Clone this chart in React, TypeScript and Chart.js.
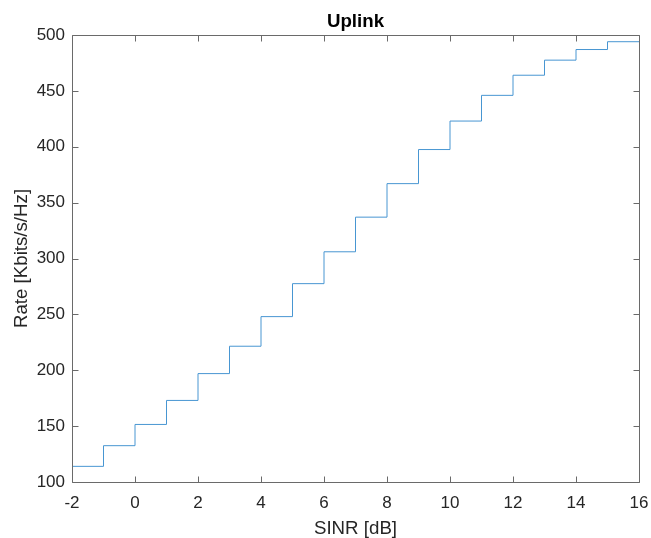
import React, { useEffect, useRef } from "react";
import { Chart, registerables } from "chart.js";

Chart.register(...registerables);

const sinr: number[] = [-2, -1, 0, 1, 2, 3, 4, 5, 6, 7, 8, 9, 10, 11, 12, 13, 14, 15, 16];
const rate: number[] = [114, 132.5, 151.5, 173, 197, 221.5, 248, 277.5, 306, 337, 367, 397.5, 423, 446, 464, 477.5, 487, 494, 494];

const titleText = "Uplink";
const xLabel = "SINR [dB]";
const yLabel = "Rate [Kbits/s/Hz]";

const FONT = "'Liberation Sans', Arial, Helvetica, sans-serif";
const TEXT_COLOR = "#262626";
const AXIS_COLOR = "#6a6a6a";

const frame = {
  id: "matlabFrame",
  afterDraw(chart: any) {
    const { ctx, chartArea } = chart;
    const { left, right, top, bottom } = chartArea;
    const xs = chart.scales.x;
    const ys = chart.scales.y;
    ctx.save();
    ctx.strokeStyle = AXIS_COLOR;
    ctx.lineWidth = 1;
    ctx.beginPath();
    const L = Math.round(left) + 0.5;
    const R = Math.round(right) + 0.5;
    const T = Math.round(top) + 0.5;
    const B = Math.round(bottom) + 0.5;
    ctx.rect(L, T, R - L, B - T);
    const tl = 6;
    xs.ticks.forEach((t: any) => {
      const px = Math.round(xs.getPixelForValue(t.value)) + 0.5;
      ctx.moveTo(px, B);
      ctx.lineTo(px, B - tl);
      ctx.moveTo(px, T);
      ctx.lineTo(px, T + tl);
    });
    ys.ticks.forEach((t: any) => {
      const py = Math.round(ys.getPixelForValue(t.value)) + 0.5;
      ctx.moveTo(L, py);
      ctx.lineTo(L + tl, py);
      ctx.moveTo(R, py);
      ctx.lineTo(R - tl, py);
    });
    ctx.stroke();

    const cx = (left + right) / 2;
    ctx.fillStyle = "#000000";
    ctx.font = `bold 18.7px ${FONT}`;
    ctx.textAlign = "center";
    ctx.textBaseline = "alphabetic";
    ctx.fillText(titleText, cx, 27);

    ctx.fillStyle = TEXT_COLOR;
    ctx.font = `18.7px ${FONT}`;
    ctx.fillText(xLabel, cx, 534);

    ctx.translate(27, (top + bottom) / 2);
    ctx.rotate(-Math.PI / 2);
    ctx.fillText(yLabel, 0, 0);
    ctx.restore();
  },
};

export default function App() {
  const ref = useRef<HTMLCanvasElement | null>(null);
  useEffect(() => {
    if (!ref.current) return;
    const chart = new Chart(ref.current, {
      type: "line",
      data: {
        datasets: [
          {
            data: sinr.map((x, i) => ({ x, y: rate[i] })),
            borderColor: "#4896d2",
            borderWidth: 1,
            pointRadius: 0,
            stepped: "before",
            fill: false,
          },
        ],
      },
      options: {
        animation: false,
        responsive: false,
        layout: { padding: { top: 35, right: 12, left: 0, bottom: 0 } },
        plugins: { legend: { display: false }, title: { display: false }, tooltip: { enabled: false } },
        scales: {
          x: {
            type: "linear",
            min: -2,
            max: 16,
            grid: { display: false, drawTicks: false },
            border: { display: false },
            ticks: { stepSize: 2, padding: 11, color: TEXT_COLOR, font: { size: 17, family: FONT }, maxRotation: 0 },
            afterFit: (s: any) => { s.height = 56; s.paddingLeft = 0; s.paddingRight = 0; },
          },
          y: {
            type: "linear",
            min: 100,
            max: 500,
            grid: { display: false, drawTicks: false },
            border: { display: false },
            ticks: { stepSize: 50, padding: 7, color: TEXT_COLOR, font: { size: 17, family: FONT } },
            afterFit: (s: any) => { s.width = 72; s.paddingTop = 0; s.paddingBottom = 0; },
          },
        },
      },
      plugins: [frame],
    });
    return () => chart.destroy();
  }, []);
  return (
    <div style={{ position: "fixed", left: 0, top: 0, width: 651, height: 538, background: "#ffffff" }}>
      <canvas ref={ref} width={651} height={538} style={{ width: 651, height: 538 }} />
    </div>
  );
}
